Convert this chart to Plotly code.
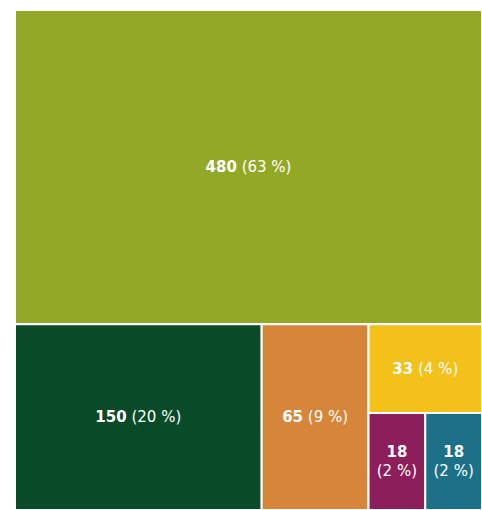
import plotly.graph_objects as go

# Data
leaf_labels = ["A", "B", "C", "D", "E", "F"]
leaf_values = [480, 150, 65, 33, 18, 18]
leaf_colors = ["#93A827", "#094A29", "#D6863A", "#F4C01A", "#8B1E5B", "#1C7189"]

total = sum(leaf_values)

# hierarchy to reproduce the slice/dice arrangement
ids = ["root", "A", "rest", "B", "C", "small", "D", "pair", "E", "F"]
parents = ["", "root", "root", "rest", "rest", "rest", "small", "small", "pair", "pair"]
leaf_index = {"A": 0, "B": 1, "C": 2, "D": 3, "E": 4, "F": 5}

pair_v = leaf_values[4] + leaf_values[5]
small_v = leaf_values[3] + pair_v
rest_v = leaf_values[1] + leaf_values[2] + small_v
node_values = {"root": total, "rest": rest_v, "small": small_v, "pair": pair_v}

values, colors, texts = [], [], []
for i in ids:
    if i in leaf_index:
        k = leaf_index[i]
        v = leaf_values[k]
        values.append(v)
        colors.append(leaf_colors[k])
        pct = round(100 * v / total)
        if v < 25:
            texts.append(f"<b>{v}</b><br>({pct} %)")
        else:
            texts.append(f"<b>{v}</b> ({pct} %)")
    else:
        values.append(node_values[i])
        colors.append("#ffffff")
        texts.append(" ")

fig = go.Figure(go.Treemap(
    ids=ids,
    labels=ids,
    parents=parents,
    values=values,
    branchvalues="total",
    sort=False,
    text=texts,
    textinfo="text",
    texttemplate="%{text}",
    textposition="middle center",
    textfont=dict(family="DejaVu Sans", size=15, color="#ffffff"),
    marker=dict(colors=colors, line=dict(color="#ffffff", width=2),
                pad=dict(t=0, l=0, r=0, b=0)),
    tiling=dict(packing="dice-slice", pad=0),
    pathbar=dict(visible=False),
    root=dict(color="#ffffff"),
    hoverinfo="skip",
))

fig.update_layout(
    width=482, height=510,
    margin=dict(l=15, r=0, t=10, b=0),
    paper_bgcolor="#ffffff",
    uniformtext=dict(minsize=8, mode="show"),
)

fig.write_html("out.html")
